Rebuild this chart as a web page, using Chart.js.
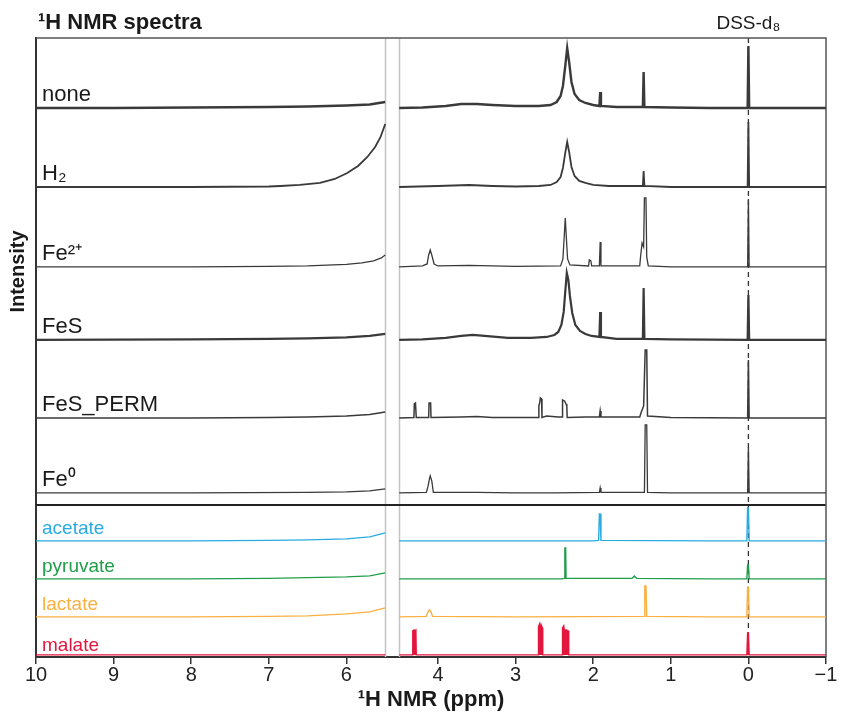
<!DOCTYPE html>
<html>
<head>
<meta charset="utf-8">
<title>1H NMR spectra</title>
<script src="https://cdn.jsdelivr.net/npm/chart.js@4"></script>
<style>
  html, body { margin: 0; padding: 0; background: #fff; }
  canvas { display: block; }
</style>
</head>
<body>
<canvas id="chart" width="841" height="717"></canvas>
<script>
// x axis is broken: 10 -> 5.5 ppm, then 4.5 -> -1 ppm
const GAP = 0.18;
function toU(ppm) {
  return ppm >= 5 ? 10 - ppm : 4.5 + GAP + (4.5 - ppm);
}

const tickPpm = [10, 9, 8, 7, 6, 4, 3, 2, 1, 0, -1];
const tickLabels = ['10', '9', '8', '7', '6', '4', '3', '2', '1', '0', '\u22121'];

const spectrumNames = ['none', 'H\u2082', 'Fe\u00b2\u207a', 'FeS', 'FeS_PERM', 'Fe\u2070', 'acetate', 'pyruvate', 'lactate', 'malate'];
const baselineOffsets = [549, 470, 390, 317, 239, 164, 116, 78, 40, 2];
const lineColors = ['#3a3a3a', '#3a3a3a', '#3a3a3a', '#3a3a3a', '#3a3a3a', '#3a3a3a', '#29abe2', '#1f9e4a', '#f9b040', '#e3173e'];
const labelColors = ['#1a1a1a', '#1a1a1a', '#1a1a1a', '#1a1a1a', '#1a1a1a', '#1a1a1a', '#29abe2', '#1f9e4a', '#f9b040', '#e3173e'];
const lineWidths = [2.4, 1.8, 1.3, 2.2, 1.5, 1.3, 1.4, 1.4, 1.4, 1.4];
const filledPeaks = [false, false, false, false, false, false, false, false, false, true];

// [ppm, intensity above baseline]
const noneSpec = [[10,0],[9,0],[8,0.5],[7,1],[6.5,1.5],[6,2.5],[5.7,3.5],[5.5,6],
  [4.5,0],[4.2,0.5],[3.9,2],[3.7,4],[3.5,4],[3.3,3],[3.0,2],[2.7,2],[2.55,3],[2.47,6],[2.42,12],[2.39,22],[2.36,42],[2.335,60],
  [2.31,46],[2.28,26],[2.24,14],[2.18,8],[2.1,5],[2.0,3],[1.92,2],[1.91,16],[1.9,2],[1.7,1],[1.36,1],[1.35,36],[1.34,1],
  [1.0,0.5],[0.5,0],[0.01,0],[0,62],[-0.01,0],[-0.5,0],[-1,0]];
const h2Spec = [[10,0],[8,0],[7,0.5],[6.85,1],[6.6,2],[6.34,4],[6.15,8],[5.99,14],[5.85,21],[5.73,30],[5.63,40],[5.56,50],[5.5,63],
  [4.5,0],[4.0,1],[3.6,2],[3.3,1],[3.0,0.5],[2.7,1],[2.55,2],[2.47,5],[2.42,10],[2.39,19],[2.36,34],[2.335,45],[2.31,35],
  [2.28,20],[2.24,11],[2.18,6],[2.1,4],[2.0,2],[1.8,1],[1.36,1],[1.35,16],[1.34,1],[1.0,0],[0.01,0],[0,65],[-0.01,0],[-1,0]];
const fe2Spec = [[10,0],[8,0],[7,0.5],[6.5,1],[6,2.5],[5.8,4],[5.65,6],[5.55,9],[5.5,12],
  [4.5,0],[4.2,1],[4.14,3],[4.12,12],[4.1,17],[4.08,12],[4.05,3],[4.0,1],[3.6,1.5],[3.0,0.5],[2.42,1],[2.39,8],[2.37,35],
  [2.36,49],[2.35,35],[2.33,8],[2.3,2],[2.06,1],[2.05,7],[2.03,6],[2.02,1],[1.92,1],[1.91,25],[1.9,1],[1.4,1],[1.39,10],
  [1.37,24],[1.35,20],[1.34,69],[1.32,69],[1.31,10],[1.29,1],[1,0],[0.01,0],[0,68],[-0.01,0],[-1,0]];
const fesSpec = [[10,0],[8,0.5],[7,1],[6.5,1.5],[6,2.5],[5.7,4],[5.5,6],
  [4.5,0],[4.2,0.5],[3.9,2],[3.7,4],[3.55,5],[3.4,4],[3.1,2],[2.8,2],[2.6,3],[2.5,5],[2.45,8],[2.41,15],[2.38,28],[2.36,48],
  [2.34,67],[2.32,60],[2.3,44],[2.27,27],[2.23,15],[2.17,9],[2.1,6],[2.02,4],[1.92,3],[1.91,28],[1.9,3],[1.7,1],[1.36,1],
  [1.35,52],[1.34,1],[1.0,0.5],[0.01,0],[0,45],[-0.01,0],[-1,0]];
const fesPermSpec = [[10,0],[8,0],[7,0.5],[6.5,1],[6,2],[5.7,3.5],[5.5,6],
  [4.5,0],[4.31,0.5],[4.305,14],[4.29,15],[4.28,0.5],[4.12,0.5],[4.115,15],[4.095,15],[4.09,0.5],[3.7,1],[3.5,1.5],[3.3,0.5],
  [2.71,0.5],[2.7,12],[2.69,15],[2.68,20],[2.665,19],[2.66,0.5],[2.6,2],[2.45,1],[2.4,1],[2.395,18],[2.37,17],[2.35,14],
  [2.34,12],[2.335,0.5],[2.1,1],[1.92,1],[1.91,7],[1.9,1],[1.4,1],[1.38,6],[1.35,12],[1.33,68],[1.31,68],[1.3,2],[1.0,0.5],
  [0.01,0],[0,58],[-0.01,0],[-1,0]];
const fe0Spec = [[10,0],[8,0],[6.5,0.5],[6,1],[5.7,2],[5.5,4],
  [4.5,0],[4.15,0.5],[4.13,6],[4.11,14],[4.1,17],[4.08,12],[4.06,0.5],[3.5,0.5],[3,0],[2.5,0],[1.92,0.5],[1.91,5],[1.9,0.5],
  [1.34,0.5],[1.33,68],[1.31,68],[1.3,0.5],[1,0],[0.01,0],[0,46],[-0.01,0],[-1,0]];
const acetateSpec = [[10,0],[8,0],[7,0.5],[6.5,1],[6,2],[5.7,4],[5.5,8],
  [4.5,0],[2,0],[1.93,0.5],[1.92,27],[1.91,27],[1.9,0.5],[0.5,0],[0.02,0],[0.01,33],[0,33],[-0.01,0],[-1,0]];
const pyruvateSpec = [[10,0],[8,0],[7,0.5],[6,2],[5.7,3],[5.5,6],
  [4.5,0],[2.4,0],[2.37,0.5],[2.365,31],[2.355,31],[2.35,0.5],[1.5,0.5],[1.47,3],[1.44,0.5],[0.5,0],[0.02,0],[0.01,14],
  [0,14],[-0.01,0],[-1,0]];
const lactateSpec = [[10,0],[8,0],[7,0.5],[6.5,1],[6,3],[5.7,5],[5.5,9],
  [4.5,0],[4.15,0.5],[4.13,5],[4.11,7],[4.09,5],[4.07,0.5],[3,0],[1.34,0.5],[1.335,31],[1.32,31],[1.31,0.5],[0.5,0],
  [0.02,0],[0.01,30],[0,30],[-0.01,0],[-1,0]];
const malateSpec = [[10,0],[5.5,0],
  [4.5,0],[4.33,0],[4.325,24],[4.31,25],[4.3,24],[4.285,25],[4.28,0],[2.71,0],[2.705,28],[2.69,31],[2.68,25],[2.67,30],
  [2.655,27],[2.65,0],[2.4,0],[2.395,27],[2.38,29],[2.37,24],[2.35,25],[2.32,24],[2.315,0],[0.02,0],[0.01,22],[0,22],
  [-0.01,0],[-1,0]];

const spectra = [noneSpec, h2Spec, fe2Spec, fesSpec, fesPermSpec, fe0Spec, acetateSpec, pyruvateSpec, lactateSpec, malateSpec];

const Y_MAX = 619;
const SEPARATOR = 152;

function buildPoints(spec, offset) {
  const pts = [];
  let prev = null;
  spec.forEach(([p, h]) => {
    if (prev !== null && prev >= 5.5 && p <= 4.5) pts.push({ x: 4.5 + GAP / 2, y: null });
    pts.push({ x: toU(p), y: offset + h });
    prev = p;
  });
  return pts;
}

const datasets = spectra.map((spec, i) => ({
  label: spectrumNames[i],
  data: buildPoints(spec, baselineOffsets[i]),
  showLine: true,
  spanGaps: false,
  borderColor: lineColors[i],
  backgroundColor: lineColors[i],
  borderWidth: lineWidths[i],
  fill: filledPeaks[i] ? { value: baselineOffsets[i] } : false,
  pointRadius: 0,
  tension: 0,
  clip: false
}));

const FONT = "'Liberation Sans', Arial, Helvetica, sans-serif";

const decorPlugin = {
  id: 'decor',
  beforeDatasetsDraw(chart) {
    const { ctx, chartArea: a, scales: { x, y } } = chart;
    ctx.save();
    // gap lines of the broken axis
    ctx.strokeStyle = '#c4c4c4';
    ctx.lineWidth = 1.5;
    [4.5, 4.5 + GAP].forEach(u => {
      const px = Math.round(x.getPixelForValue(u)) + 0.5;
      ctx.beginPath();
      ctx.moveTo(px, a.top);
      ctx.lineTo(px, a.bottom);
      ctx.stroke();
    });
    // DSS reference dashed line
    const x0 = x.getPixelForValue(toU(0));
    ctx.strokeStyle = '#333';
    ctx.lineWidth = 1.3;
    ctx.setLineDash([5, 4]);
    ctx.beginPath();
    ctx.moveTo(x0, a.top);
    ctx.lineTo(x0, a.bottom);
    ctx.stroke();
    ctx.setLineDash([]);
    // separator between samples and references
    const ys = y.getPixelForValue(SEPARATOR);
    ctx.strokeStyle = '#222';
    ctx.lineWidth = 2;
    ctx.beginPath();
    ctx.moveTo(a.left, ys);
    ctx.lineTo(a.right, ys);
    ctx.stroke();
    // top and right frame
    ctx.strokeStyle = '#555';
    ctx.lineWidth = 1.5;
    ctx.beginPath();
    ctx.moveTo(a.left, a.top);
    ctx.lineTo(a.right, a.top);
    ctx.lineTo(a.right, a.bottom);
    ctx.stroke();
    ctx.restore();
  },
  afterDraw(chart) {
    const { ctx, chartArea: a, scales: { x, y } } = chart;
    ctx.save();
    ctx.textBaseline = 'alphabetic';
    ctx.textAlign = 'left';
    spectrumNames.forEach((name, i) => {
      ctx.font = (i < 6 ? '22px ' : '19px ') + FONT;
      ctx.fillStyle = labelColors[i];
      const yy = y.getPixelForValue(baselineOffsets[i]) - (i === 9 ? 4 : 7);
      ctx.fillText(name, a.left + 6, yy);
    });
    ctx.fillStyle = '#1a1a1a';
    ctx.font = 'bold 22px ' + FONT;
    ctx.fillText('\u00b9H NMR spectra', 38, 29);
    ctx.font = '19px ' + FONT;
    ctx.textAlign = 'center';
    ctx.fillText('DSS-d\u2088', x.getPixelForValue(toU(0)), 29);
    ctx.translate(18, (a.top + y.getPixelForValue(SEPARATOR)) / 2);
    ctx.rotate(-Math.PI / 2);
    ctx.font = 'bold 20px ' + FONT;
    ctx.textBaseline = 'middle';
    ctx.fillText('Intensity', 0, 0);
    ctx.restore();
  }
};

const chart = new Chart(document.getElementById('chart').getContext('2d'), {
  type: 'scatter',
  data: { datasets },
  options: {
    responsive: false,
    animation: false,
    devicePixelRatio: 1,
    layout: { padding: { left: 28, right: 15, top: 38, bottom: 0 } },
    plugins: {
      legend: { display: false },
      tooltip: { enabled: false },
      filler: { propagate: false }
    },
    scales: {
      x: {
        type: 'linear',
        min: 0,
        max: toU(-1),
        afterBuildTicks: scale => {
          scale.ticks = tickPpm.map(p => ({ value: toU(p) }));
        },
        ticks: {
          autoSkip: false,
          maxRotation: 0,
          padding: 0,
          color: '#222',
          font: { family: FONT, size: 20 },
          callback: (value, index) => tickLabels[index]
        },
        grid: { display: true, drawOnChartArea: false, drawTicks: true, tickLength: 7, color: '#333', lineWidth: 1.5 },
        border: { display: true, color: '#333', width: 2 },
        title: {
          display: true,
          text: '\u00b9H NMR (ppm)',
          color: '#1a1a1a',
          font: { family: FONT, size: 22, weight: 'bold', lineHeight: 1.05 },
          padding: { top: 0, bottom: 6 }
        }
      },
      y: {
        min: 0,
        max: Y_MAX,
        ticks: { display: false },
        grid: { display: false },
        border: { display: true, color: '#333', width: 2 }
      }
    }
  },
  plugins: [decorPlugin]
});
</script>
</body>
</html>
